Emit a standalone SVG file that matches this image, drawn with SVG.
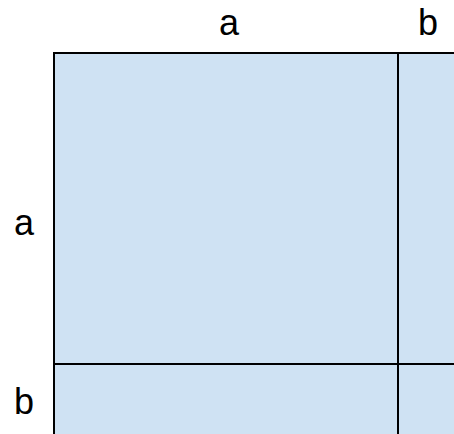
<svg xmlns="http://www.w3.org/2000/svg" width="454" height="434" viewBox="0 0 454 434">
<style>
.t{font-family:"Liberation Sans",Arial,sans-serif;font-size:36px;fill:#000;text-anchor:middle}
.l{stroke:#000;stroke-width:2;fill:none}
</style>
<rect width="454" height="434" fill="#fff"/>
<g id="square">
<rect x="54" y="53" width="400" height="381" fill="#cfe2f3"/>
<path class="l" d="M54,434 V53 H454" stroke="#333"/>
</g>
<g id="connectors">
<line class="l" x1="398" y1="53" x2="398" y2="434"/>
<line class="l" x1="54" y1="364" x2="454" y2="364"/>
</g>
<g id="labels">
<text class="t" x="229" y="35">a</text>
<text class="t" x="428" y="35">b</text>
<text class="t" x="24" y="235">a</text>
<text class="t" x="24" y="414">b</text>
</g>
</svg>
